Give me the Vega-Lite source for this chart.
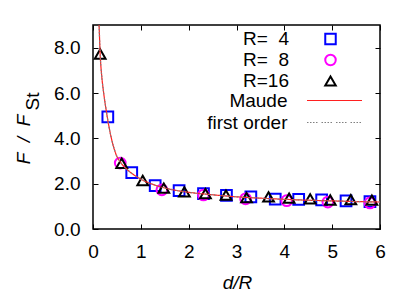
{
  "$schema": "https://vega.github.io/schema/vega-lite/v6.json",
  "autosize": "none",
  "padding": {"left": 93, "top": 25, "right": 35, "bottom": 62},
  "width": 287,
  "height": 204,
  "background": "white",
  "config": {
    "font": "Liberation Sans",
    "view": {"stroke": "black", "strokeWidth": 1.5},
    "axis": {
      "domain": false,
      "grid": false,
      "tickColor": "black",
      "tickSize": -5,
      "tickWidth": 1,
      "labelFont": "Liberation Sans",
      "labelFontSize": 19,
      "labelColor": "black",
      "titleFont": "Liberation Sans",
      "titleFontSize": 19,
      "titleColor": "black",
      "titleFontWeight": "normal"
    }
  },
  "datasets": {
    "pts": [
      {"d": 0.31, "F": 4.95, "series": "R=\u00a0\u00a04"},
      {"d": 0.81, "F": 2.49, "series": "R=\u00a0\u00a04"},
      {"d": 1.30, "F": 1.91, "series": "R=\u00a0\u00a04"},
      {"d": 1.80, "F": 1.69, "series": "R=\u00a0\u00a04"},
      {"d": 2.31, "F": 1.56, "series": "R=\u00a0\u00a04"},
      {"d": 2.79, "F": 1.48, "series": "R=\u00a0\u00a04"},
      {"d": 3.30, "F": 1.42, "series": "R=\u00a0\u00a04"},
      {"d": 3.81, "F": 1.32, "series": "R=\u00a0\u00a04"},
      {"d": 4.30, "F": 1.31, "series": "R=\u00a0\u00a04"},
      {"d": 4.78, "F": 1.28, "series": "R=\u00a0\u00a04"},
      {"d": 5.29, "F": 1.24, "series": "R=\u00a0\u00a04"},
      {"d": 5.79, "F": 1.21, "series": "R=\u00a0\u00a04"},
      {"d": 0.57, "F": 2.91, "series": "R=\u00a0\u00a08"},
      {"d": 1.44, "F": 1.73, "series": "R=\u00a0\u00a08"},
      {"d": 2.31, "F": 1.50, "series": "R=\u00a0\u00a08"},
      {"d": 3.19, "F": 1.33, "series": "R=\u00a0\u00a08"},
      {"d": 4.05, "F": 1.25, "series": "R=\u00a0\u00a08"},
      {"d": 4.91, "F": 1.19, "series": "R=\u00a0\u00a08"},
      {"d": 5.79, "F": 1.15, "series": "R=\u00a0\u00a08"},
      {"d": 0.15, "F": 7.72, "series": "R=16"},
      {"d": 0.60, "F": 2.90, "series": "R=16"},
      {"d": 1.04, "F": 2.14, "series": "R=16"},
      {"d": 1.48, "F": 1.80, "series": "R=16"},
      {"d": 1.91, "F": 1.64, "series": "R=16"},
      {"d": 2.35, "F": 1.56, "series": "R=16"},
      {"d": 2.78, "F": 1.49, "series": "R=16"},
      {"d": 3.21, "F": 1.38, "series": "R=16"},
      {"d": 3.67, "F": 1.42, "series": "R=16"},
      {"d": 4.10, "F": 1.36, "series": "R=16"},
      {"d": 4.54, "F": 1.33, "series": "R=16"},
      {"d": 4.96, "F": 1.28, "series": "R=16"},
      {"d": 5.39, "F": 1.30, "series": "R=16"},
      {"d": 5.83, "F": 1.27, "series": "R=16"}
    ],
    "curves": [
      {"d": 0.115, "F": 9.6, "model": "Maude"},
      {"d": 0.127, "F": 9.0, "model": "Maude"},
      {"d": 0.15, "F": 7.7, "model": "Maude"},
      {"d": 0.18, "F": 6.8, "model": "Maude"},
      {"d": 0.22, "F": 6.05, "model": "Maude"},
      {"d": 0.26, "F": 5.45, "model": "Maude"},
      {"d": 0.30, "F": 4.92, "model": "Maude"},
      {"d": 0.39, "F": 3.95, "model": "Maude"},
      {"d": 0.48, "F": 3.30, "model": "Maude"},
      {"d": 0.58, "F": 2.93, "model": "Maude"},
      {"d": 0.70, "F": 2.65, "model": "Maude"},
      {"d": 0.80, "F": 2.47, "model": "Maude"},
      {"d": 1.00, "F": 2.20, "model": "Maude"},
      {"d": 1.25, "F": 1.97, "model": "Maude"},
      {"d": 1.50, "F": 1.81, "model": "Maude"},
      {"d": 1.75, "F": 1.70, "model": "Maude"},
      {"d": 2.00, "F": 1.62, "model": "Maude"},
      {"d": 2.50, "F": 1.51, "model": "Maude"},
      {"d": 3.00, "F": 1.42, "model": "Maude"},
      {"d": 3.50, "F": 1.36, "model": "Maude"},
      {"d": 4.00, "F": 1.31, "model": "Maude"},
      {"d": 4.50, "F": 1.27, "model": "Maude"},
      {"d": 5.00, "F": 1.24, "model": "Maude"},
      {"d": 5.50, "F": 1.21, "model": "Maude"},
      {"d": 6.00, "F": 1.19, "model": "Maude"},
      {"d": 0.115, "F": 9.6, "model": "first order"},
      {"d": 0.127, "F": 9.0, "model": "first order"},
      {"d": 0.15, "F": 7.7, "model": "first order"},
      {"d": 0.18, "F": 6.8, "model": "first order"},
      {"d": 0.22, "F": 6.05, "model": "first order"},
      {"d": 0.26, "F": 5.45, "model": "first order"},
      {"d": 0.30, "F": 4.92, "model": "first order"},
      {"d": 0.39, "F": 3.95, "model": "first order"},
      {"d": 0.48, "F": 3.30, "model": "first order"},
      {"d": 0.58, "F": 2.93, "model": "first order"},
      {"d": 0.70, "F": 2.65, "model": "first order"},
      {"d": 0.80, "F": 2.47, "model": "first order"},
      {"d": 1.00, "F": 2.20, "model": "first order"},
      {"d": 1.25, "F": 1.97, "model": "first order"},
      {"d": 1.50, "F": 1.81, "model": "first order"},
      {"d": 1.75, "F": 1.70, "model": "first order"},
      {"d": 2.00, "F": 1.62, "model": "first order"},
      {"d": 2.50, "F": 1.51, "model": "first order"},
      {"d": 3.00, "F": 1.42, "model": "first order"},
      {"d": 3.50, "F": 1.36, "model": "first order"},
      {"d": 4.00, "F": 1.31, "model": "first order"},
      {"d": 4.50, "F": 1.27, "model": "first order"},
      {"d": 5.00, "F": 1.24, "model": "first order"},
      {"d": 5.50, "F": 1.21, "model": "first order"},
      {"d": 6.00, "F": 1.19, "model": "first order"}
    ]
  },
  "resolve": {"axis": {"x": "independent", "y": "independent"}},
  "layer": [
    {
      "data": {"name": "pts"},
      "mark": {"type": "point", "strokeWidth": 2, "size": 115, "opacity": 1, "filled": false},
      "encoding": {
        "x": {"field": "d", "type": "quantitative", "scale": {"domain": [0, 6], "nice": false, "zero": false}, "axis": null},
        "y": {"field": "F", "type": "quantitative", "scale": {"domain": [0, 9], "nice": false}, "axis": null},
        "color": {
          "field": "series", "type": "nominal",
          "scale": {"domain": ["R=\u00a0\u00a04", "R=\u00a0\u00a08", "R=16"], "range": ["#0000ff", "#ff00ff", "#000000"]},
          "legend": {
            "orient": "none", "legendX": 228, "legendY": 4.5, "title": null, "padding": 0, "offset": 0,
            "labelAlign": "right", "labelOffset": -51, "labelFontSize": 19, "labelFont": "Liberation Sans", "labelColor": "black",
            "symbolSize": 110, "symbolStrokeWidth": 2, "rowPadding": 1, "labelBaseline": "middle"
          }
        },
        "shape": {
          "field": "series", "type": "nominal",
          "scale": {"domain": ["R=\u00a0\u00a04", "R=\u00a0\u00a08", "R=16"], "range": ["square", "circle", "triangle-up"]}
        }
      }
    },
    {
      "data": {"name": "curves"},
      "mark": {"type": "line", "strokeWidth": 1.2, "interpolate": "monotone", "clip": true},
      "encoding": {
        "x": {
          "field": "d", "type": "quantitative",
          "axis": {"orient": "bottom", "values": [0, 1, 2, 3, 4, 5, 6], "format": "d", "labelFlush": false,
                   "labelPadding": 33, "labelBaseline": "alphabetic",
                   "title": "d/R", "titleFontStyle": "italic", "titleX": 144, "titleY": 59, "titleBaseline": "alphabetic", "titleAlign": "center"}
        },
        "y": {
          "field": "F", "type": "quantitative",
          "axis": {"orient": "left", "values": [0, 2, 4, 6, 8], "format": ".1f", "labelPadding": 18,
                   "title": "F\u00a0\u00a0/\u00a0\u00a0F", "titleFontStyle": "italic", "titleAngle": -90,
                   "titleX": -64, "titleY": 114, "titleBaseline": "alphabetic", "titleAlign": "center"}
        },
        "stroke": {
          "field": "model", "type": "nominal",
          "scale": {"domain": ["Maude", "first order"], "range": ["#ff2020", "#808080"]},
          "legend": {
            "orient": "none", "legendX": 232, "legendY": 66, "title": null, "padding": 0, "offset": 0,
            "labelAlign": "right", "labelOffset": -56.5, "labelFontSize": 19, "labelFont": "Liberation Sans", "labelColor": "black",
            "symbolType": "M-27.5,0H27.5", "symbolSize": 4, "symbolStrokeWidth": 1.2, "rowPadding": 2, "labelBaseline": "middle",
            "encode": {"symbols": {"update": {"stroke": {"scale": "stroke", "field": "value"}}}}
          }
        },
        "strokeDash": {
          "field": "model", "type": "nominal",
          "scale": {"domain": ["Maude", "first order"], "range": [[1, 0], [1.5, 1.5, 1.5, 1.5, 1.5, 1.5, 1.5, 4]]}
        }
      }
    },
    {
      "data": {"name": "pts"},
      "mark": {"type": "point", "opacity": 0},
      "encoding": {
        "x": {"field": "d", "type": "quantitative",
              "axis": {"orient": "top", "values": [0, 1, 2, 3, 4, 5, 6], "labels": false, "title": null}},
        "y": {"field": "F", "type": "quantitative",
              "axis": {"orient": "right", "values": [0, 2, 4, 6, 8], "labels": false, "title": null}}
      }
    },
    {
      "data": {"name": "pts"},
      "mark": {"type": "point", "opacity": 0},
      "encoding": {
        "x": {"field": "d", "type": "quantitative", "axis": null},
        "y": {"field": "F", "type": "quantitative",
              "axis": {"orient": "left", "labels": false, "ticks": false, "domain": false,
                       "title": "St", "titleFontStyle": "normal", "titleAngle": -90,
                       "titleX": -55, "titleY": 76, "titleBaseline": "alphabetic", "titleAlign": "center"}}
      }
    }
  ]
}
